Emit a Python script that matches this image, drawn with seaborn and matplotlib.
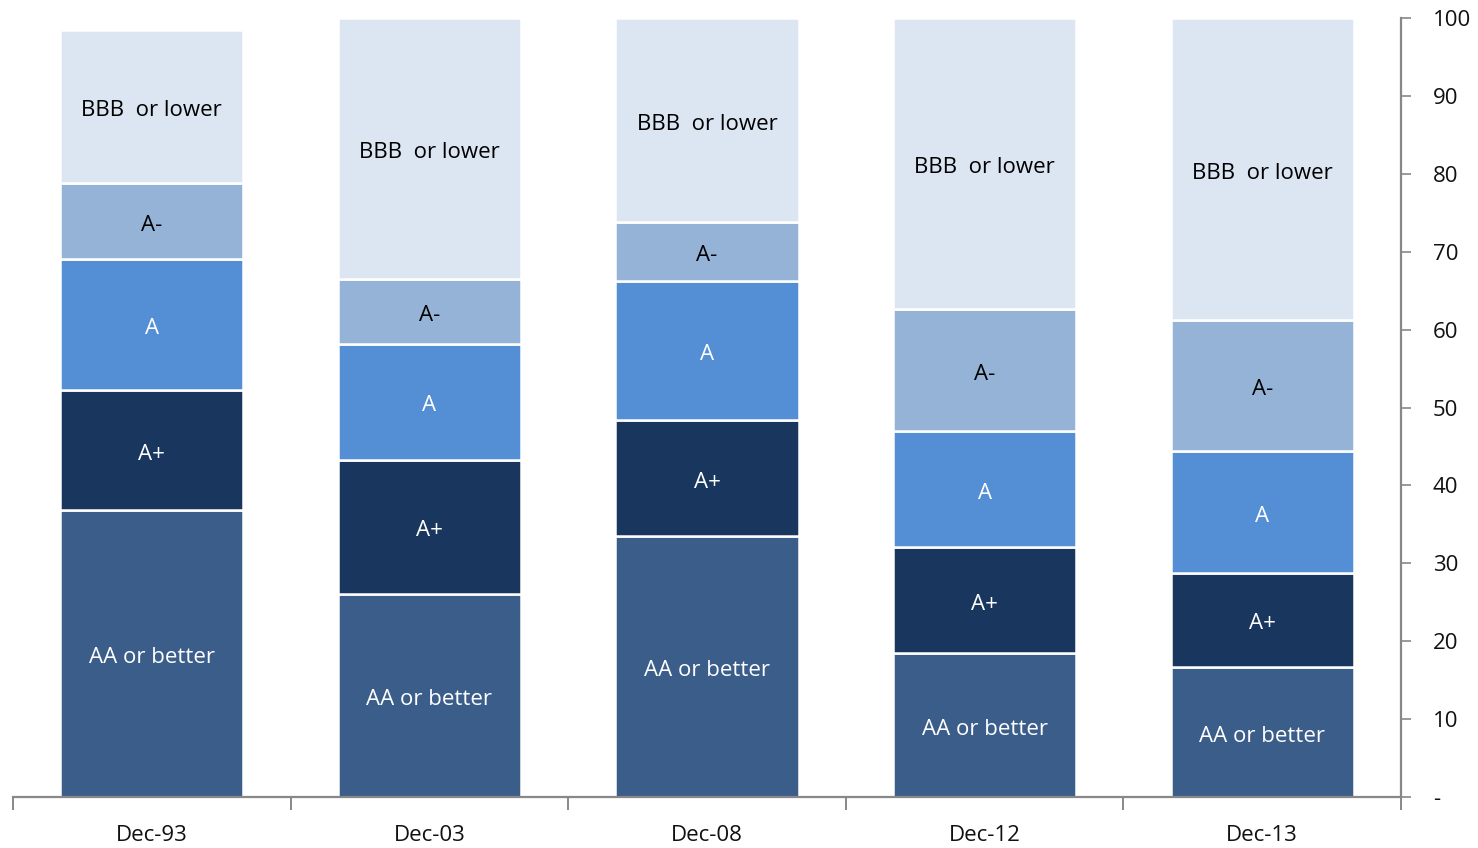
import matplotlib
matplotlib.use("Agg")
import matplotlib.pyplot as plt
import seaborn as sns
import numpy as np
import pandas as pd

# Share of holdings by credit rating (per cent)
periods = ["Dec-93", "Dec-03", "Dec-08", "Dec-12", "Dec-13"]
ratings = ["AA or better", "A+", "A", "A-", "BBB  or lower"]
aa_or_better = [36.8, 26.1, 33.5, 18.5, 16.7]
a_plus = [15.4, 17.2, 14.9, 13.6, 12.1]
a_mid = [16.9, 14.9, 17.8, 14.9, 15.6]
a_minus = [9.7, 8.3, 7.6, 15.6, 16.8]
bbb_or_lower = [19.7, 33.5, 26.2, 37.4, 38.8]
y_ticks = [0, 10, 20, 30, 40, 50, 60, 70, 80, 90, 100]
y_tick_labels = ["-", "10", "20", "30", "40", "50", "60", "70", "80", "90", "100"]

series = [aa_or_better, a_plus, a_mid, a_minus, bbb_or_lower]
colors = ["#3A5D8A", "#18365E", "#548FD5", "#95B3D7", "#DCE6F2"]
text_colors = ["white", "white", "white", "black", "black"]

sns.set_theme(style="white")
plt.rcParams["font.family"] = ["Open Sans", "DejaVu Sans"]

fig = plt.figure(figsize=(14.78, 8.48), dpi=100)
ax = fig.add_axes([13 / 1478, 1 - 797 / 848, (1401 - 13) / 1478, (797 - 18) / 848])

bottom = np.zeros(len(periods))
for name, vals, col, tcol in zip(ratings, series, colors, text_colors):
    df = pd.DataFrame({"period": periods, "value": vals})
    sns.barplot(data=df, x="period", y="value", order=periods, color=col,
                bottom=bottom, width=0.66, edgecolor="white", linewidth=1.8,
                saturation=1, ax=ax)
    for i, v in enumerate(vals):
        ax.annotate(name, xy=(i, bottom[i] + v / 2), xytext=(0, -3),
                    textcoords="offset points", ha="center", va="center",
                    color=tcol, fontsize=16)
    bottom = bottom + np.array(vals)

ax.set_xlim(-0.5, len(periods) - 0.5)
ax.set_ylim(0, 100)
ax.set_xlabel("")
ax.set_ylabel("")

# Right-hand value axis
ax.yaxis.tick_right()
ax.set_yticks(y_ticks)
ax.set_yticklabels(y_tick_labels, fontsize=16, color="#111111")
ax.tick_params(axis="y", right=True, direction="out", length=7, width=1.2,
               color="#888888", pad=16)

# Category axis with ticks between groups
ax.set_xticks(np.arange(len(periods)))
ax.set_xticklabels(periods, fontsize=16, color="#111111")
ax.set_xticks(np.arange(-0.5, len(periods)), minor=True)
ax.tick_params(axis="x", which="major", bottom=False, length=0, pad=20)
ax.tick_params(axis="x", which="minor", bottom=True, direction="out",
               length=9, width=1.4, color="#888888")

for side in ["top", "left"]:
    ax.spines[side].set_visible(False)
for side in ["bottom", "right"]:
    ax.spines[side].set_visible(True)
    ax.spines[side].set_color("#888888")
    ax.spines[side].set_linewidth(1.6)

fig.savefig("out.png", dpi=100, facecolor="white")
